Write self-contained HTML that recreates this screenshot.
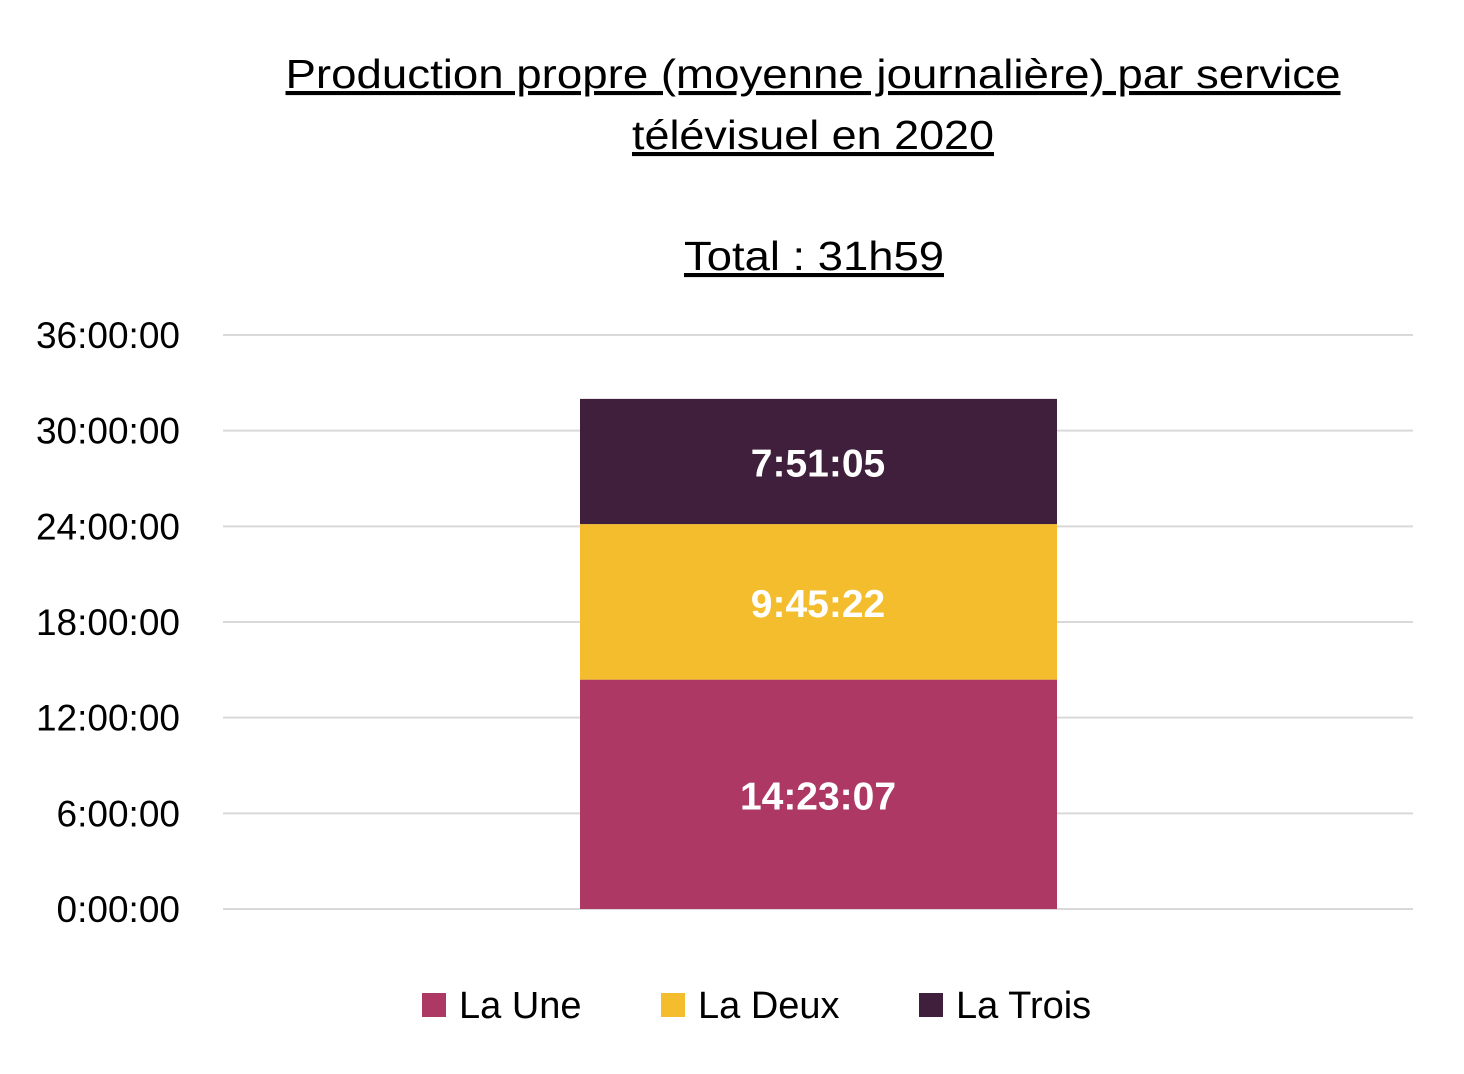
<!DOCTYPE html>
<html><head><meta charset="utf-8"><style>
body{margin:0;background:#fff;width:1464px;height:1069px;overflow:hidden;font-family:"Liberation Sans",sans-serif}
</style></head><body>
<svg width="1464" height="1069">
<g font-size="41" text-anchor="middle" fill="#000" text-decoration="underline">
<text x="813" y="88" textLength="1055" lengthAdjust="spacingAndGlyphs">Production propre (moyenne journalière) par service</text>
<text x="813" y="149" textLength="362" lengthAdjust="spacingAndGlyphs">télévisuel en 2020</text>
<text x="814" y="270" textLength="260" lengthAdjust="spacingAndGlyphs">Total : 31h59</text>
</g>
<g id="grid"></g><g id="yticks"></g><g id="bars"></g><g id="legend"></g>
</svg>
<script>
const series = ["La Une","La Deux","La Trois"];
const valuesSec = [14*3600+23*60+7, 9*3600+45*60+22, 7*3600+51*60+5];
const labels = ["14:23:07","9:45:22","7:51:05"];
const colors = ["#AD3863","#F3BD2E","#3F1F3B"];
const tickHours = [0,6,12,18,24,30,36];
const tickLabels = ["0:00:00","6:00:00","12:00:00","18:00:00","24:00:00","30:00:00","36:00:00"];
const NS="http://www.w3.org/2000/svg";
const y0=909,y36=335;
function y(h){return y0-(y0-y36)*h/36;}
function mk(t,a,p){const e=document.createElementNS(NS,t);for(const k in a)e.setAttribute(k,a[k]);p.appendChild(e);return e;}
const grid=document.getElementById('grid'),yt=document.getElementById('yticks');
tickHours.forEach((h,i)=>{
 const l=mk('line',{x1:223,x2:1413,y1:y(h),y2:y(h),stroke:'#d9d9d9','stroke-width':2},grid);
 
 
 const t=mk('text',{x:180,y:y(h)+13,'text-anchor':'end','font-size':37,fill:'#000'},yt);
 t.textContent=tickLabels[i];
 
 
});
const bars=document.getElementById('bars');let cum=0;
valuesSec.forEach((v,i)=>{
 const h=v/3600,top=y(cum+h),bot=y(cum);
 const r=mk('rect',{x:580,width:477,y:top,height:bot-top,fill:colors[i]},bars);
 
 
 const t=mk('text',{x:818,y:(top+bot)/2+15,'text-anchor':'middle','font-size':39,'font-weight':'bold',fill:'#fff'},bars);
 t.textContent=labels[i];
 
 
 cum+=h;
});
const lg=document.getElementById('legend');const lx=[422,661,919];
series.forEach((s,i)=>{
 const r=mk('rect',{x:lx[i],y:993,width:24,height:24,fill:colors[i]},lg);
 
 
 const t=mk('text',{x:lx[i]+37,y:1018,'font-size':38,fill:'#000'},lg);
 t.textContent=s;
 
 
});
</script>
</body></html>
